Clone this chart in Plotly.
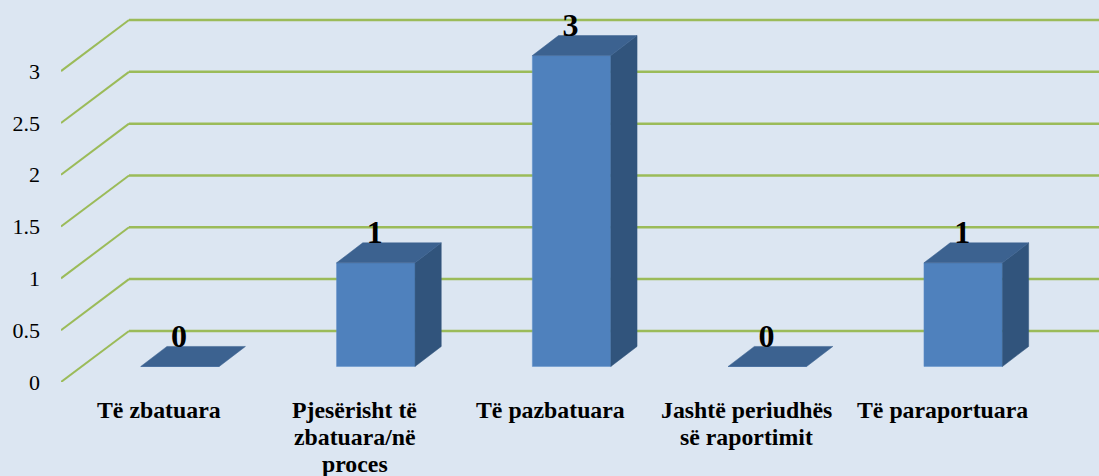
import plotly.graph_objects as go

categories = [["Të zbatuara"], ["Pjesërisht të", "zbatuara/në", "proces"], ["Të pazbatuara"],
              ["Jashtë periudhës", "së raportimit"], ["Të paraportuara"]]
values = [0, 1, 3, 0, 1]
y_ticks = [0, 0.5, 1, 1.5, 2, 2.5, 3]
y_tick_labels = ["0", "0.5", "1", "1.5", "2", "2.5", "3"]

BG = "#DCE6F2"
FRONT = "#4F81BD"
SIDE = "#31547C"
TOP = "#3C6290"
GRID = "#9BBB59"
FONT = "Liberation Serif"

PX_X = 195.8
PX_Y = 103.5
x_min, x_max = -99 / PX_X, 939 / PX_X
y_max = 381.5 / PX_Y

bar_shift = 20 / PX_X
bar_w = 78.5 / PX_X
bar_base = 15.5 / PX_Y
dep_x, dep_y = 26.2 / PX_X, 20 / PX_Y
wall_x, wall_y = 68 / PX_X, 51 / PX_Y
LINE_GAP = 27

idx = list(range(len(categories)))
fig = go.Figure()

fig.add_trace(go.Bar(x=[i + bar_shift for i in idx], y=values, base=bar_base, width=bar_w,
                     marker=dict(color=FRONT, line=dict(color="#5F8FC8", width=0.5))))

for i, v in zip(idx, values):
    l = i + bar_shift - bar_w / 2
    r = i + bar_shift + bar_w / 2
    b = bar_base
    t = bar_base + v
    if v > 0:
        fig.add_trace(go.Scatter(x=[r, r + dep_x, r + dep_x, r, r], y=[b, b + dep_y, t + dep_y, t, b],
                                 mode="lines", fill="toself", fillcolor=SIDE,
                                 line=dict(color=SIDE, width=0.5)))
    fig.add_trace(go.Scatter(x=[l, l + dep_x, r + dep_x, r, l], y=[t, t + dep_y, t + dep_y, t, t],
                             mode="lines", fill="toself", fillcolor=TOP,
                             line=dict(color=TOP, width=0.5)))

fig.add_trace(go.Scatter(x=[i + 19 / PX_X for i in idx], y=[v + 0.415 for v in values],
                         mode="text", text=[str(v) for v in values], textposition="middle center",
                         textfont=dict(family=FONT, size=32, color="black", weight="bold")))

shapes = []
for v in y_ticks:
    shapes.append(dict(type="line", xref="x", yref="y", layer="below", x0=x_min, y0=v,
                       x1=x_min + wall_x, y1=v + wall_y, line=dict(color=GRID, width=2)))
    shapes.append(dict(type="line", xref="x", yref="y", layer="below", x0=x_min + wall_x, y0=v + wall_y,
                       x1=x_max, y1=v + wall_y, line=dict(color=GRID, width=2.5)))

annotations = []
for i, lines in zip(idx, categories):
    for n, txt in enumerate(lines):
        annotations.append(dict(xref="x", yref="y", x=i, y=0, text=txt, showarrow=False,
                                xanchor="center", yanchor="middle", xshift=-1, yshift=-28 - n * LINE_GAP,
                                font=dict(family=FONT, size=23.8, color="black", weight="bold")))

fig.update_layout(
    width=1099, height=476, autosize=False, showlegend=False, hovermode=False,
    paper_bgcolor=BG, plot_bgcolor=BG,
    margin=dict(l=61, r=0, t=0, b=94, pad=0),
    shapes=shapes, annotations=annotations,
    xaxis=dict(range=[x_min, x_max], showticklabels=False,
               showgrid=False, zeroline=False, showline=False, ticks=""),
    yaxis=dict(range=[0, y_max], tickmode="array", tickvals=y_ticks, ticktext=y_tick_labels,
               showgrid=False, zeroline=False, showline=False, ticks="", ticklabelstandoff=20,
               tickfont=dict(family=FONT, size=22, color="black")),
)
fig.write_html("out.html", config={"displayModeBar": False},
               post_script="document.body.style.margin='0';document.body.style.background='#DCE6F2';")
